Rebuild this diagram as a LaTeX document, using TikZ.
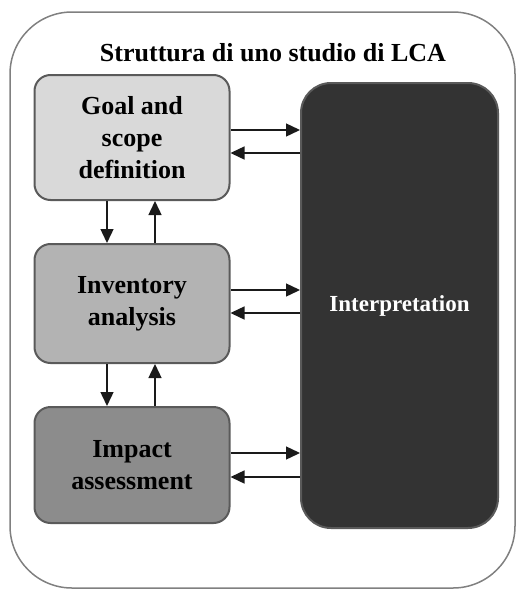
\documentclass[tikz,border=0pt]{standalone}
\usepackage{fontspec}
\setmainfont{Liberation Serif}
\usetikzlibrary{arrows.meta}
\definecolor{frame}{HTML}{808080}
\definecolor{edge}{HTML}{5A5A5A}
\definecolor{goalfill}{HTML}{D9D9D9}
\definecolor{invfill}{HTML}{B3B3B3}
\definecolor{impfill}{HTML}{8C8C8C}
\definecolor{intfill}{HTML}{333333}
\definecolor{arrowcol}{HTML}{1A1A1A}
\begin{document}
\begin{tikzpicture}[x=1pt,y=-1pt,
  phase/.style={draw=edge, line width=2pt, rounded corners=16pt,
    minimum width=195pt, align=center, inner sep=0pt,
    font=\fontsize{26}{32}\selectfont\bfseries, text=black},
  flow/.style={draw=arrowcol, line width=1.4pt,
    -{Triangle[length=14pt,width=13pt]}}]
  \useasboundingbox (0,0) rectangle (517,589);
  % outer frame
  \draw[frame, line width=1.5pt, rounded corners=62pt] (10,12) rectangle (515,588);
  \node[font=\fontsize{26}{30}\selectfont\bfseries] (title) at (273,53) {Struttura di uno studio di LCA};
  % phases
  \node[phase, fill=goalfill, minimum height=125pt] (goal) at (132,137.5) {Goal and\\scope\\definition};
  \node[phase, fill=invfill, minimum height=119pt] (inv) at (132,303.5) {Inventory\\analysis};
  \node[phase, fill=impfill, minimum height=116pt] (imp) at (132,465) {Impact\\assessment};
  \node[draw=edge, line width=2pt, fill=intfill, rounded corners=30pt,
    minimum width=197pt, minimum height=445pt, inner sep=0pt,
    font=\fontsize{23}{28}\selectfont\bfseries, text=white] (int) at (399.5,305.5) {\raisebox{-4pt}{Interpretation}};
  % vertical links between phases
  \draw[flow] (goal.south -| 107,0) -- (inv.north -| 107,0);
  \draw[flow] (inv.north -| 155,0) -- (goal.south -| 155,0);
  \draw[flow] (inv.south -| 107,0) -- (imp.north -| 107,0);
  \draw[flow] (imp.north -| 155,0) -- (inv.south -| 155,0);
  % links to interpretation
  \draw[flow] (goal.east |- 0,130) -- (int.west |- 0,130);
  \draw[flow] (int.west |- 0,153) -- (goal.east |- 0,153);
  \draw[flow] (inv.east |- 0,290) -- (int.west |- 0,290);
  \draw[flow] (int.west |- 0,313) -- (inv.east |- 0,313);
  \draw[flow] (imp.east |- 0,453) -- (int.west |- 0,453);
  \draw[flow] (int.west |- 0,477) -- (imp.east |- 0,477);
\end{tikzpicture}
\end{document}
